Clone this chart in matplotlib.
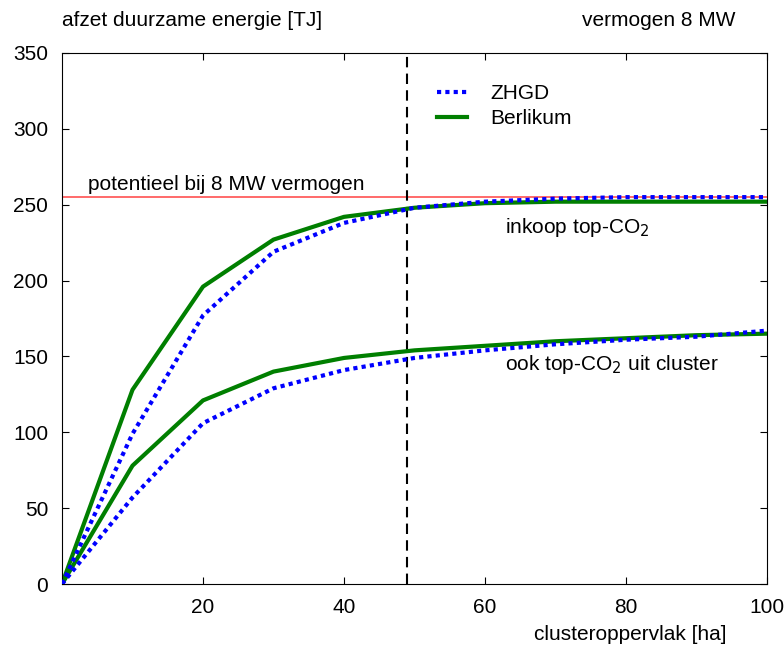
import matplotlib
matplotlib.use("Agg")
import matplotlib.pyplot as plt

plt.rcParams["font.family"] = ["Liberation Sans", "DejaVu Sans"]

# ── data ──────────────────────────────────────────────────────────────────────
area = [0, 10, 20, 30, 40, 50, 60, 70, 80, 90, 100]

zhgd_inkoop     = [0, 99, 177, 219, 238, 248, 252, 254, 255, 255, 255]
berlikum_inkoop = [0, 128, 196, 227, 242, 248, 251, 252, 252, 252, 252]
zhgd_cluster     = [0, 57, 106, 129, 141, 149, 154, 158, 161, 163, 167]
berlikum_cluster = [0, 78, 121, 140, 149, 154, 157, 160, 162, 164, 165]

potential = 255
area_marker = 49

FS = 15

# ── plot ──────────────────────────────────────────────────────────────────────
fig = plt.figure(figsize=(7.84, 6.51), dpi=100)
ax = fig.add_axes([62 / 784, 1 - 584 / 651, 705 / 784, 531 / 651])

ax.axhline(potential, color="#ff5050", lw=1.2, zorder=1)
ax.axvline(area_marker, color="black", lw=1.5, ls=(0, (5, 3)), zorder=1)

ax.plot(area, berlikum_inkoop, color="#007f00", lw=3, label="Berlikum", zorder=2)
ax.plot(area, zhgd_inkoop, color="#0000ff", lw=3, ls=(0, (1, 1)), label="ZHGD", zorder=3)
ax.plot(area, berlikum_cluster, color="#007f00", lw=3, zorder=2)
ax.plot(area, zhgd_cluster, color="#0000ff", lw=3, ls=(0, (1, 1)), zorder=3)

ax.set_xlim(0, 100)
ax.set_ylim(0, 350)
ax.set_xticks([20, 40, 60, 80, 100])
ax.set_yticks(range(0, 351, 50))
ax.tick_params(direction="in", top=True, right=True, length=5, labelsize=FS, pad=10)

h, l = ax.get_legend_handles_labels()
ax.legend([h[1], h[0]], [l[1], l[0]], loc="upper left", bbox_to_anchor=(0.505, 0.977),
          frameon=False, fontsize=FS, handlelength=1.45, handletextpad=1.1,
          labelspacing=0.3)

fig.text(62 / 784, 1 - 20 / 651, "afzet duurzame energie [TJ]", fontsize=FS, va="center")
fig.text(735 / 784, 1 - 20 / 651, "vermogen 8 MW", fontsize=FS, va="center", ha="right")
fig.text(727 / 784, 1 - 635 / 651, "clusteroppervlak [ha]", fontsize=FS, va="center", ha="right")

ax.text(3.7, 257, "potentieel bij 8 MW vermogen", fontsize=FS, va="bottom")
ax.text(62.8, 235, "inkoop top-CO$_2$", fontsize=FS, va="center")
ax.text(62.8, 145, "ook top-CO$_2$ uit cluster", fontsize=FS, va="center")

fig.savefig("out.png", dpi=100)
